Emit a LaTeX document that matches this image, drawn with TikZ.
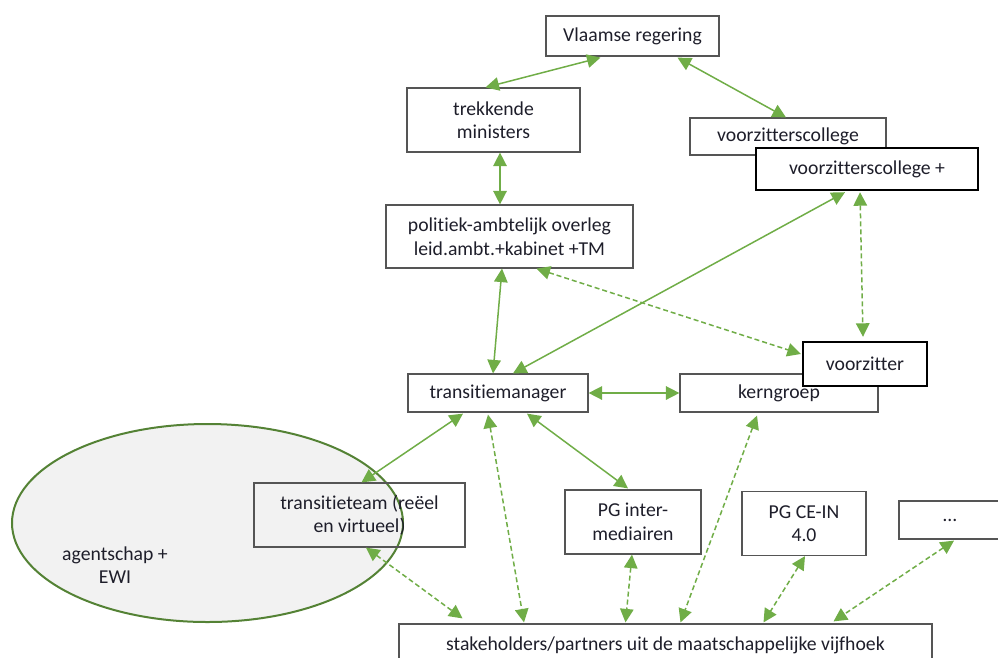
\documentclass[tikz,border=0pt]{standalone}
\usepackage{fontspec}
\setmainfont{Carlito}[Ligatures=NoCommon]
\usetikzlibrary{arrows.meta,calc,shapes.geometric}
\definecolor{arrgreen}{HTML}{70AD47}
\definecolor{ellgreen}{HTML}{548235}
\definecolor{ellfill}{HTML}{F2F2F2}
\definecolor{boxgray}{HTML}{555555}
\definecolor{txt}{HTML}{1E1E2A}
\begin{document}
\begin{tikzpicture}[x=1pt,y=-1pt,
  lbl/.style={align=center, inner sep=0pt, text=txt, font=\fontsize{19.7}{23.5}\selectfont},
  box/.style={lbl, draw=boxgray, line width=1.2pt, rectangle},
  thickbox/.style={lbl, draw=black, line width=2.4pt, rectangle, fill=white},
  link/.style={draw=arrgreen, line width=1.5pt,
    {Triangle[length=13.5pt,width=13.5pt]}-{Triangle[length=13.5pt,width=13.5pt]}},
  dlink/.style={link, dash pattern=on 5pt off 3pt}]
\useasboundingbox (0,0) rectangle (998,657);

% ellipse
\node[ellipse, draw=ellgreen, line width=2pt, fill=ellfill, minimum width=391pt, minimum height=198pt, inner sep=0pt] (ew) at (207.5,523) {};
\node[lbl] (ag) at (115,565) {agentschap +\\EWI};

% boxes
\node[box, minimum width=173pt, minimum height=40pt] (vr) at (632.5,36) {Vlaamse regering};
\node[box, minimum width=173pt, minimum height=64pt] (tm) at (493.5,120) {trekkende\\ministers};
\node[box, minimum width=196pt, minimum height=37pt, fill=white] (vc) at (788,136.5) {voorzitterscollege};
\node[thickbox, minimum width=222pt, minimum height=42pt] (vcp) at (867,169) {voorzitterscollege +};
\node[box, minimum width=247pt, minimum height=63pt] (pao) at (509.5,236.5) {politiek-ambtelijk overleg\\leid.ambt.+kabinet +TM};
\node[box, minimum width=180pt, minimum height=38pt] (tman) at (498,393) {transitiemanager};
\node[box, minimum width=198pt, minimum height=38pt] (kg) at (779,393) {kerngroep};
\node[thickbox, minimum width=124pt, minimum height=44pt] (vz) at (865,364) {voorzitter};
\node[box, minimum width=211pt, minimum height=64pt] (tt) at (359.5,515) {transitieteam (reëel\\en virtueel)};
\node[box, minimum width=136pt, minimum height=64pt] (pgi) at (633,522) {PG inter-\\mediairen};
\node[box, minimum width=124pt, minimum height=64pt] (pgc) at (804,523.5) {PG CE-IN\\4.0};
\node[box, minimum width=102pt, minimum height=38pt] (dots) at (950,520) {…};
\node[box, minimum width=533pt, minimum height=42pt] (sh) at (665.5,645) {stakeholders/partners uit de maatschappelijke vijfhoek};

% connectors
\draw[link] ($(vr.south)+(-32,1)$) -- ($(tm.north)+(-8,0)$);
\draw[link] ($(vr.south)+(45,1)$) -- ($(vc.north)+(-2,0)$);
\draw[link] ($(tm.south)+(6.5,0)$) -- ($(pao.north)+(-9.5,0)$);
\draw[link] ($(pao.south)+(-7.5,0)$) -- ($(tman.north)+(-5,0)$);
\draw[link] ($(vcp.south)+(-22,1)$) -- ($(tman.north)+(15,0)$);
\draw[dlink] ($(pao.south)+(27,0)$) -- ($(vz.west)+(-1,-10)$);
\draw[dlink] ($(vcp.south)+(-7,1)$) -- ($(vz.north)+(-2,-4)$);
\draw[link] (tman.east) -- (kg.west);
\draw[link] ($(tman.south)+(-35,1)$) -- ($(tt.north)+(2,0)$);
\draw[link] ($(tman.south)+(29,1)$) -- ($(pgi.north)+(-5,-1)$);
\draw[dlink] ($(tman.south)+(-10,2)$) -- ($(sh.north)+(-141.5,-1)$);
\draw[dlink] ($(kg.south)+(-22,3)$) -- ($(sh.north)+(15,-1)$);
\draw[dlink] ($(tt.south)+(6.5,0)$) -- ($(sh.north)+(-203,-5)$);
\draw[dlink] ($(pgi.south)+(-1,0)$) -- ($(sh.north)+(-40,-1)$);
\draw[dlink] ($(pgc.south)+(1,0)$) -- ($(sh.north)+(98,-1)$);
\draw[dlink] ($(dots.south)+(4,1)$) -- ($(sh.north)+(168,-2)$);
\end{tikzpicture}
\end{document}
